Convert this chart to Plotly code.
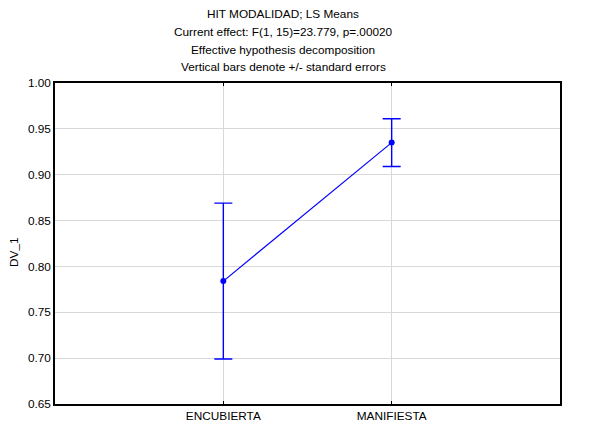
import plotly.graph_objects as go

categories = ["ENCUBIERTA", "MANIFIESTA"]
means = [0.784, 0.935]
std_errors = [0.085, 0.026]
y_ticks = [0.65, 0.70, 0.75, 0.80, 0.85, 0.90, 0.95, 1.00]
title_lines = [
    "HIT MODALIDAD; LS Means",
    "Current effect: F(1, 15)=23.779, p=.00020",
    "Effective hypothesis decomposition",
    "Vertical bars denote +/- standard errors",
]
y_label = "DV_1"

W, H = 590, 444
L, R, T, B = 55, 30, 83, 40
FONT = "Arial, Liberation Sans, Helvetica, sans-serif"
FS = 11.8
BLUE = "#0000FF"


def px_x(px):
    return (px - L) / (W - L - R)


def px_y(py):
    return (H - B - py) / (H - T - B)


fig = go.Figure()
fig.add_trace(
    go.Scatter(
        x=categories,
        y=means,
        mode="lines+markers",
        line=dict(color=BLUE, width=1.2),
        marker=dict(color=BLUE, size=6),
        error_y=dict(type="data", array=std_errors, visible=True,
                     color=BLUE, thickness=1.4, width=9),
        showlegend=False,
        hoverinfo="x+y",
    )
)

annotations = []
title_y = [14, 32, 49.7, 67.5]
for txt, yy in zip(title_lines, title_y):
    annotations.append(dict(
        text=txt, xref="paper", yref="paper", x=px_x(283), y=px_y(yy),
        xanchor="center", yanchor="middle", showarrow=False,
        font=dict(family=FONT, size=FS, color="black"),
    ))
annotations.append(dict(
    text=y_label, xref="paper", yref="paper", x=px_x(14), y=px_y(252),
    xanchor="center", yanchor="middle", showarrow=False, textangle=-90,
    font=dict(family=FONT, size=FS, color="black"),
))

fig.update_layout(
    width=W, height=H, autosize=False,
    margin=dict(l=L, r=R, t=T, b=B, pad=0),
    paper_bgcolor="white", plot_bgcolor="white",
    font=dict(family=FONT, size=FS, color="black"),
    annotations=annotations,
    xaxis=dict(
        type="category", range=[-1, 2],
        showgrid=True, gridcolor="#d8d8d8", gridwidth=1,
        showline=True, linecolor="black", linewidth=1.5, mirror="ticks",
        ticks="inside", ticklen=3, tickcolor="black", tickwidth=1,
        tickfont=dict(family=FONT, size=FS, color="black"),
        zeroline=False, fixedrange=True,
    ),
    yaxis=dict(
        range=[0.65, 1.00], tickvals=y_ticks, tickformat=".2f",
        showgrid=True, gridcolor="#d8d8d8", gridwidth=1,
        showline=True, linecolor="black", linewidth=1.5, mirror=True,
        ticks="", tickfont=dict(family=FONT, size=FS, color="black"),
        zeroline=False, fixedrange=True,
    ),
)

fig.write_html("out.html")
